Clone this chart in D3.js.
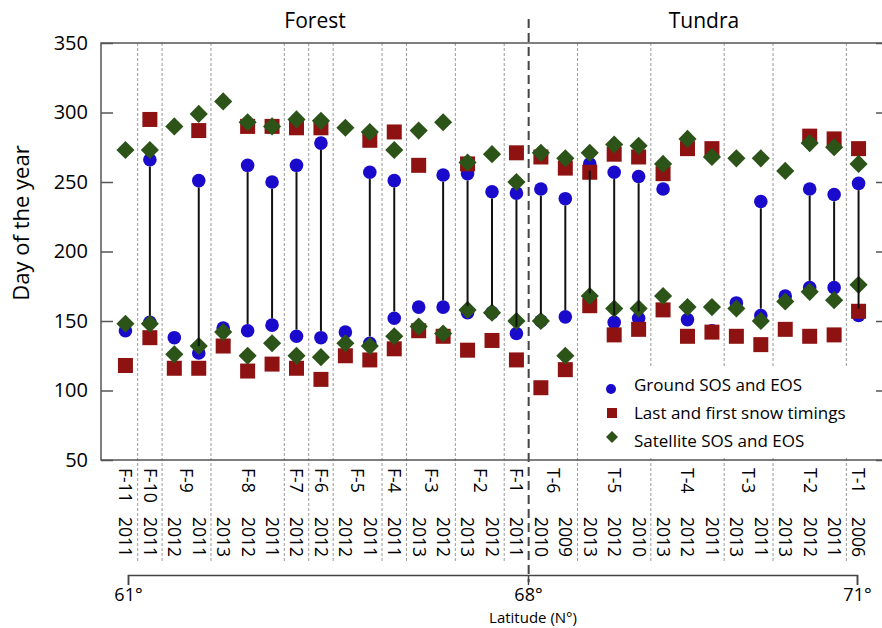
<!DOCTYPE html>
<html>
<head>
<meta charset="utf-8">
<script src="https://cdn.jsdelivr.net/npm/d3@7"></script>
<style>
body { margin: 0; background: #fff; }
svg { display: block; }
text { font-family: "Open Sans", sans-serif; fill: #000; }
</style>
</head>
<body>
<svg id="chart" width="882" height="628"></svg>
<script>
// sites, in the order they sit along the axis
var siteLabels = ["F-11","F-10","F-9","F-8","F-7","F-6","F-5","F-4","F-3","F-2","F-1",
                  "T-6","T-5","T-4","T-3","T-2","T-1"];
// one column per site-year
var colSite = ["F-11","F-10","F-9","F-9","F-8","F-8","F-8","F-7","F-6","F-5","F-5","F-4","F-3","F-3",
               "F-2","F-2","F-1","T-6","T-6","T-5","T-5","T-5","T-4","T-4","T-4","T-3","T-3",
               "T-2","T-2","T-2","T-1"];
var colYear = ["2011","2011","2012","2011","2013","2012","2011","2012","2012","2012","2011","2011","2013","2012",
               "2013","2012","2011","2010","2009","2013","2012","2010","2013","2012","2011","2013","2011",
               "2013","2012","2011","2006"];

// ground observations (blue circles)
var groundEOS = [null,266,null,251,null,262,250,262,278,null,257,251,null,255,
                 256,243,242,245,238,263,257,254,245,null,null,null,236,null,245,241,249];
var groundSOS = [143,149,138,127,145,143,147,139,138,142,134,152,160,160,
                 156,156,141,150,153,165,149,152,null,151,143,163,154,168,174,174,154];
// snow timings (red squares)
var snowFirst = [null,295,null,287,null,290,290,289,289,null,280,286,262,null,
                 263,null,271,268,260,257,270,268,256,274,274,null,null,null,283,281,274];
var snowLast  = [118,138,116,116,132,114,119,116,108,125,122,130,143,139,
                 129,136,122,102,115,161,140,144,158,139,142,139,133,144,139,140,157];
// satellite (green diamonds)
var satEOS = [273,273,290,299,308,293,290,295,294,289,286,273,287,293,
              264,270,250,271,267,271,277,276,263,281,268,267,267,258,278,275,263];
var satSOS = [148,148,126,132,142,125,134,125,124,134,132,139,146,141,
              158,156,150,150,125,168,159,159,168,160,160,159,150,164,171,165,176];

var yTicks = [50,100,150,200,250,300,350];
var latTicks = [61,68,71];
var legendLabels = ["Ground SOS and EOS","Last and first snow timings","Satellite SOS and EOS"];

var BLUE = "#1a0bcc", RED = "#8e1212", GREEN = "#2c5318";

var svg = d3.select("#chart");
var pLeft = 101, pRight = 883, pTop = 43, pBottom = 460;

var x = d3.scalePoint().domain(d3.range(colSite.length)).range([pLeft, pRight]).padding(1);
var y = d3.scaleLinear().domain([50, 350]).range([pBottom, pTop]);
var lat = d3.scaleLinear().domain([61, 68, 71]).range([128, 528, 857]);

var sites = siteLabels.map(function(s) {
    var idx = [];
    colSite.forEach(function(c, i) { if (c === s) idx.push(i); });
    return {name: s, first: idx[0], last: idx[idx.length - 1]};
});

// site separators
var gSep = svg.append("g");
for (var i = 0; i < sites.length - 1; i++) {
    var xm = (x(sites[i].last) + x(sites[i + 1].first)) / 2;
    if (sites[i].name === "F-1") {
        gSep.append("line").attr("x1", xm).attr("x2", xm).attr("y1", 19).attr("y2", 582)
            .attr("stroke", "#444").attr("stroke-width", 2).attr("stroke-dasharray", "9,5");
    } else {
        gSep.append("line").attr("x1", xm).attr("x2", xm).attr("y1", pTop).attr("y2", 562)
            .attr("stroke", "#999").attr("stroke-width", 1).attr("stroke-dasharray", "3,2");
    }
}

// frame
svg.append("path")
    .attr("d", "M" + pRight + "," + pTop + "H" + pLeft + "V" + pBottom + "H" + pRight)
    .attr("fill", "none").attr("stroke", "#555").attr("stroke-width", 1.5);

var yAxis = svg.append("g").attr("transform", "translate(" + pLeft + ",0)")
    .call(d3.axisLeft(y).tickValues(yTicks).tickSize(-12).tickPadding(13));
yAxis.select(".domain").remove();
yAxis.selectAll("line").attr("stroke", "#555").attr("stroke-width", 1.5);
yAxis.selectAll("text").style("font-size", "20px").style("font-family", "Open Sans").attr("fill", "#000");

var yAxisR = svg.append("g").attr("transform", "translate(" + pRight + ",0)")
    .call(d3.axisRight(y).tickValues(yTicks).tickSize(-7).tickFormat(""));
yAxisR.select(".domain").remove();
yAxisR.selectAll("line").attr("stroke", "#555").attr("stroke-width", 1.5);

function pts(arr) {
    return arr.map(function(v, i) { return {i: i, v: v}; }).filter(function(d) { return d.v !== null; });
}

var circleR = 6.8;
var gMarks = svg.append("g");
// blue circles
gMarks.selectAll(".g").data(pts(groundEOS).concat(pts(groundSOS))).enter().append("circle")
    .attr("cx", function(d) { return x(d.i); })
    .attr("cy", function(d) { return y(d.v); })
    .attr("r", circleR).attr("fill", BLUE);
// red squares
var sq = d3.symbol().type(d3.symbolSquare).size(225);
gMarks.selectAll(".s").data(pts(snowFirst).concat(pts(snowLast))).enter().append("path")
    .attr("d", sq)
    .attr("transform", function(d) { return "translate(" + x(d.i) + "," + y(d.v) + ")"; })
    .attr("fill", RED);
// green diamonds
var dm = d3.symbol().type(d3.symbolSquare).size(165);
gMarks.selectAll(".d").data(pts(satEOS).concat(pts(satSOS))).enter().append("path")
    .attr("d", dm)
    .attr("transform", function(d) { return "translate(" + x(d.i) + "," + y(d.v) + ") rotate(45)"; })
    .attr("fill", GREEN);

// season lines between ground SOS and EOS
var spans = groundEOS.map(function(v, i) { return {i: i, eos: v, sos: groundSOS[i]}; })
    .filter(function(d) { return d.eos !== null && d.sos !== null; });
svg.append("g").selectAll("line").data(spans).enter().append("line")
    .attr("x1", function(d) { return x(d.i); }).attr("x2", function(d) { return x(d.i); })
    .attr("y1", function(d) { return y(d.eos) + circleR; })
    .attr("y2", function(d) { return y(d.sos) - circleR; })
    .attr("stroke", "#111").attr("stroke-width", 2);

// legend
var lg = svg.append("g");
lg.append("rect").attr("x", 598).attr("y", 366).attr("width", 276).attr("height", 90).attr("fill", "#fff");
lg.append("circle").attr("cx", 611).attr("cy", 389).attr("r", 5).attr("fill", BLUE);
lg.append("path").attr("d", d3.symbol().type(d3.symbolSquare).size(100))
    .attr("transform", "translate(612,413)").attr("fill", RED);
lg.append("path").attr("d", d3.symbol().type(d3.symbolSquare).size(72))
    .attr("transform", "translate(612,437) rotate(45)").attr("fill", GREEN);
lg.selectAll("text").data(legendLabels).enter().append("text")
    .attr("x", 634).attr("y", function(d, i) { return 391 + i * 28; })
    .style("font-size", "17px").text(function(d) { return d; });

// site and year labels
svg.append("g").selectAll("text").data(sites).enter().append("text")
    .attr("transform", function(d) { return "translate(" + (x(d.first) + x(d.last)) / 2 + ",468) rotate(90)"; })
    .attr("dy", "0.35em").style("font-size", "17.5px").text(function(d) { return d.name; });
svg.append("g").selectAll("text").data(colYear).enter().append("text")
    .attr("transform", function(d, i) { return "translate(" + x(i) + ",517) rotate(90)"; })
    .attr("dy", "0.35em").style("font-size", "17.5px").text(function(d) { return d; });

// latitude axis
var latAxis = svg.append("g").attr("transform", "translate(0,575)")
    .call(d3.axisBottom(lat).tickValues(latTicks).tickSize(10).tickSizeOuter(10).tickPadding(3)
        .tickFormat(function(d) { return d + "°"; }));
latAxis.selectAll("path, line").attr("stroke", "#444").attr("stroke-width", 1.5);
latAxis.selectAll("text").style("font-size", "18px").style("font-family", "Open Sans").attr("fill", "#000");

svg.append("text").attr("x", 533).attr("y", 623).attr("text-anchor", "middle")
    .style("font-size", "15px").text("Latitude (N°)");

// titles
svg.append("text").attr("x", 315).attr("y", 28).attr("text-anchor", "middle")
    .style("font-size", "21px").text("Forest");
svg.append("text").attr("x", 704).attr("y", 28).attr("text-anchor", "middle")
    .style("font-size", "21px").text("Tundra");
svg.append("text").attr("transform", "translate(29,223) rotate(-90)").attr("text-anchor", "middle")
    .style("font-size", "22px").text("Day of the year");
</script>
</body>
</html>
